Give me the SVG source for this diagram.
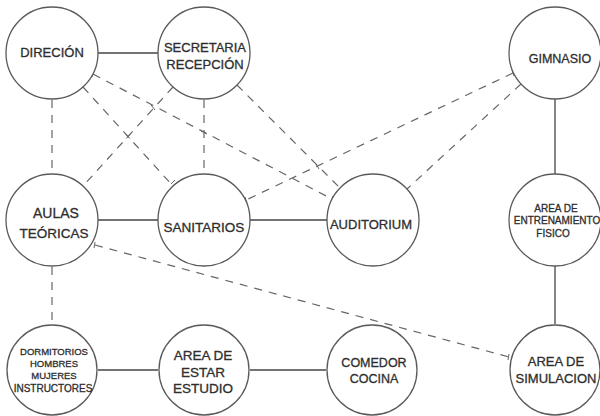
<svg xmlns="http://www.w3.org/2000/svg" width="600" height="416" viewBox="0 0 600 416">
<style>
.n{fill:#fff;stroke:#5a5a5a;stroke-width:1.3}
.t{font-family:"Liberation Sans","DejaVu Sans",sans-serif;fill:#2e2e2e;stroke:#2e2e2e;stroke-width:0.3;text-anchor:middle}
.s{stroke:#444;stroke-width:1.3;fill:none}
.d{stroke:#666;stroke-width:1.2;fill:none;stroke-dasharray:8 7}
.k{stroke:#666;stroke-width:1;fill:none}
</style>
<rect width="600" height="416" fill="#fff"/>
<g id="connectors">
<line class="s" x1="98" y1="53" x2="158" y2="53"/>
<line class="s" x1="555" y1="99" x2="555" y2="174"/>
<line class="s" x1="555" y1="266" x2="555" y2="324"/>
<line class="s" x1="98" y1="220" x2="158" y2="220"/>
<line class="s" x1="250" y1="220" x2="327" y2="220"/>
<line class="s" x1="98" y1="370" x2="158" y2="370"/>
<line class="s" x1="250" y1="370" x2="326" y2="370"/>
<line class="d" x1="52" y1="100" x2="52" y2="174"/>
<line class="d" x1="52" y1="267" x2="52" y2="324"/>
<line class="d" x1="204" y1="100" x2="204" y2="174"/>
<line class="d" x1="83" y1="87" x2="173" y2="186"/>
<line class="d" x1="173" y1="87" x2="83" y2="186"/>
<line class="d" x1="93" y1="74" x2="332" y2="199"/>
<line class="d" x1="237" y1="85" x2="340" y2="188"/>
<line class="d" x1="513" y1="73" x2="246" y2="200"/>
<line class="d" x1="521" y1="84" x2="407" y2="189"/>
<line class="d" x1="95" y1="245" x2="509" y2="357"/>
<path class="k" d="M81 89l4-4M171 184l4-4M175 89l-4-4M85 188l-4-4M94 71l-2 6M331 202l2-6M235 87l4-4M342 186l-4 4M512 70l2 6M247 203l-2-6M519 82l4 4M409 191l-4-4M95 242l-1 6M509 354l-1 6"/>
<path class="k" d="M126 134.5l4 4M130 134.5l-4 4M151 105l4 5M201 131l6 3M316 164l3 5"/>
</g>
<g id="direcion"><circle class="n" cx="52" cy="53" r="46"/><text class="t" x="52" y="57" font-size="13">DIRECIÓN</text></g>
<g id="secretaria"><circle class="n" cx="204" cy="53" r="46"/><text class="t" x="205" y="52" font-size="13">SECRETARIA</text><text class="t" x="205" y="69" font-size="13">RECEPCIÓN</text></g>
<g id="gimnasio"><circle class="n" cx="555" cy="53" r="46"/><text class="t" x="560" y="63" font-size="12.5">GIMNASIO</text></g>
<g id="aulas"><circle class="n" cx="52" cy="220" r="46"/><text class="t" x="56" y="218" font-size="14">AULAS</text><text class="t" x="54" y="238" font-size="13.5">TEÓRICAS</text></g>
<g id="sanitarios"><circle class="n" cx="204" cy="220" r="46"/><text class="t" x="204" y="232" font-size="13.5">SANITARIOS</text></g>
<g id="auditorium"><circle class="n" cx="373" cy="220" r="46"/><text class="t" x="371" y="229" font-size="13">AUDITORIUM</text></g>
<g id="entrenamiento"><circle class="n" cx="555" cy="220" r="46"/><text class="t" x="556" y="212" font-size="10">AREA DE</text><text class="t" x="557" y="224" font-size="10">ENTRENAMIENTO</text><text class="t" x="553" y="237" font-size="10">FISICO</text></g>
<g id="dormitorios"><circle class="n" cx="52" cy="370" r="45"/><text class="t" x="54" y="355" font-size="9.5">DORMITORIOS</text><text class="t" x="54" y="367" font-size="9.5">HOMBRES</text><text class="t" x="54" y="379" font-size="9.5">MUJERES</text><text class="t" x="53" y="392" font-size="10">INSTRUCTORES</text></g>
<g id="estar"><circle class="n" cx="204" cy="370" r="45"/><text class="t" x="203" y="360" font-size="13.5">AREA DE</text><text class="t" x="203" y="377" font-size="13.5">ESTAR</text><text class="t" x="203" y="393" font-size="13.5">ESTUDIO</text></g>
<g id="comedor"><circle class="n" cx="372" cy="370" r="45"/><text class="t" x="374" y="367" font-size="12.5">COMEDOR</text><text class="t" x="374" y="383" font-size="12.5">COCINA</text></g>
<g id="simulacion"><circle class="n" cx="555" cy="370" r="45"/><text class="t" x="556" y="366" font-size="13">AREA DE</text><text class="t" x="556" y="383" font-size="13">SIMULACION</text></g>
</svg>
